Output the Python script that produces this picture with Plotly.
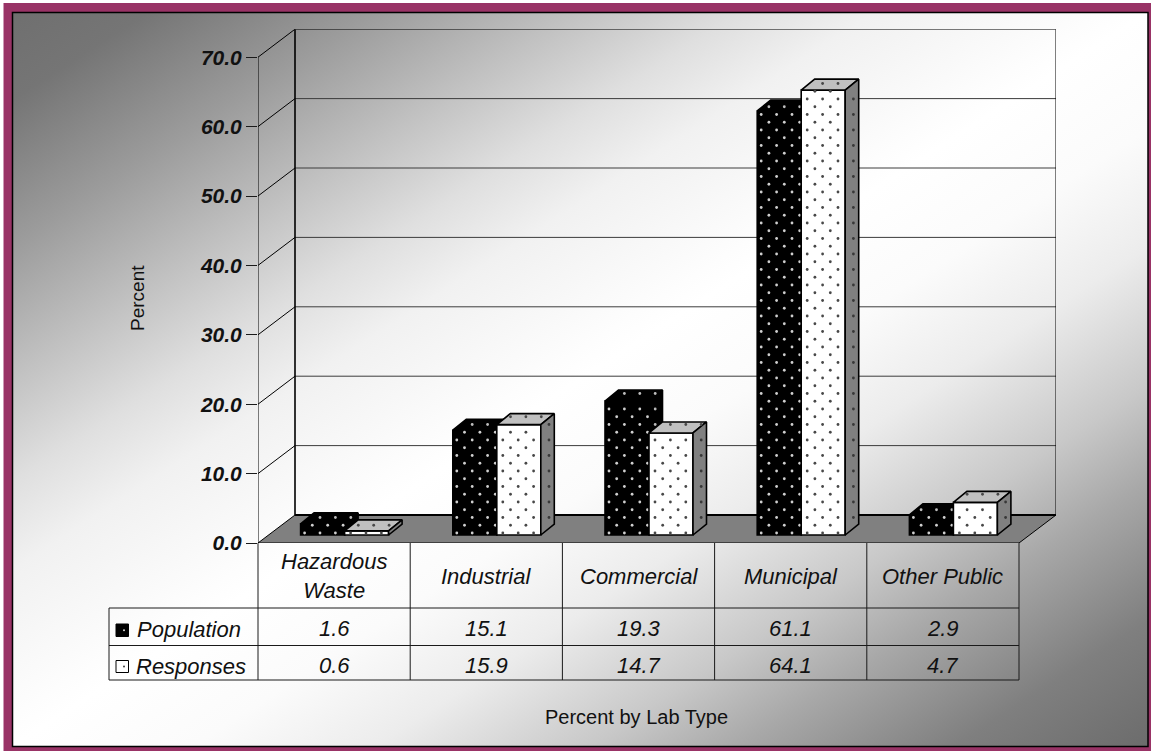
import base64
import plotly.graph_objects as go

# ---- chart data ----
categories = ["Hazardous<br>Waste", "Industrial", "Commercial", "Municipal", "Other Public"]
population = [1.6, 15.1, 19.3, 61.1, 2.9]
responses = [0.6, 15.9, 14.7, 64.1, 4.7]
value_ticks = [0, 10, 20, 30, 40, 50, 60, 70]

# ---- page geometry (pixels) ----
W, H = 1151, 751
AX_LEFT, AX_BOTTOM = 258, 543     # origin of the front plane
SX, SY = 152.2, 6.94              # pixels per category, pixels per percent
WALL_DX, WALL_DY = 37, 28         # oblique depth of the chart box
BAR_PAD_DX, BAR_PAD_DY = 10.5, 8  # bars stand slightly behind the front edge
BAR_W = 44                        # width of one bar
BAR_DX, BAR_DY = 13.5, 11         # oblique depth of one bar
FONT = "Liberation Sans, Arial, sans-serif"
INK = "#111111"


def px(x):
    return x / W


def py(y):
    return 1 - y / H


def dx(pixels):
    return pixels / SX


def dy(pixels):
    return pixels / SY


n = len(categories)
DX, DY = dx(WALL_DX), dy(WALL_DY)
x_top = 5 + dx(WALL_DX)
y_top = 70 + DY

fig = go.Figure()


def poly_trace(points, fill=None, line="#000000", width=1.0, zorder=0):
    xs = [p[0] if p else None for p in points]
    ys = [p[1] if p else None for p in points]
    fig.add_trace(go.Scatter(
        x=xs, y=ys, mode="lines", hoverinfo="skip", showlegend=False,
        line=dict(color=line, width=width), cliponaxis=False, zorder=zorder,
        fill="toself" if fill else None, fillcolor=fill,
    ))


# Floor of the chart box
poly_trace([(0, 0), (n, 0), (n + DX, DY), (DX, DY), (0, 0)], fill="#808080", width=1.0)
poly_trace([(DX, DY), (n + DX, DY)], width=2.0)

# Grid lines running along the left side and the back wall
for v in value_ticks[1:]:
    poly_trace([(0, v), (DX, v + DY)], width=1.0)
    poly_trace([(DX, v + DY), (n + DX, v + DY)],
               line="#000000" if v == 70 else "#3c3c3c", width=1.0)

# Box edges
poly_trace([(0, 0), (0, 70)], width=1.0)
poly_trace([(DX, DY), (DX, y_top)], width=1.6)
poly_trace([(n + DX, DY), (n + DX, y_top)], width=1.0)


def lattice(left, base_px, top_px, phase):
    """Staggered dot positions, in pixel offsets from the bar's lower left corner."""
    pts = []
    row = 0
    while base_px - 2 - row * 7.75 > top_px - BAR_DY:
        oy = 2 + row * 7.75
        ox = phase + (7.7 if row % 2 else 0)
        while ox < BAR_W + BAR_DX:
            pts.append((ox, oy))
            ox += 15.4
        row += 1
    return pts


def bar_3d(values, offset, front, top_col, side_col, dot_front, dot_top, dot_side, phase, zorder, name):
    tops, sides = [], []
    dots = {dot_front: ([], []), dot_top: ([], []), dot_side: ([], [])}
    base = dy(BAR_PAD_DY)
    xc = []
    for i, v in enumerate(values):
        left = i + 0.5 + dx(BAR_PAD_DX) + offset * dx(BAR_W)
        xc.append(left + dx(BAR_W) / 2)
        right = left + dx(BAR_W)
        top = base + v
        ddx, ddy = dx(BAR_DX), dy(BAR_DY)
        tops += [(left, top), (right, top), (right + ddx, top + ddy), (left + ddx, top + ddy), (left, top), None]
        sides += [(right, base), (right + ddx, base + ddy), (right + ddx, top + ddy), (right, top), (right, base), None]

        # sort the dots onto the face each one lands on
        h_px = v * SY
        for ox, oy in lattice(left, 100, 100 - h_px, phase):
            if 1 < ox < BAR_W - 1 and 1 < oy < h_px - 1:
                col = dot_front
            elif ox >= BAR_W + 1 and ox < BAR_W + BAR_DX - 1 and (ox - BAR_W) * BAR_DY / BAR_DX + 1 < oy < h_px + (ox - BAR_W) * BAR_DY / BAR_DX - 1:
                col = dot_side
            elif oy > h_px + 1 and oy < h_px + BAR_DY - 1 and ox - (oy - h_px) * BAR_DX / BAR_DY > 1 and ox - (oy - h_px) * BAR_DX / BAR_DY < BAR_W - 1:
                col = dot_top
            else:
                continue
            dots[col][0].append(left + dx(ox))
            dots[col][1].append(base + dy(oy))

    fig.add_trace(go.Bar(
        x=xc, y=values, base=base, width=dx(BAR_W), name=name, showlegend=False,
        marker=dict(color=front, line=dict(color="#000000", width=1.6)), zorder=zorder,
    ))
    poly_trace(tops, fill=top_col, width=1.6, zorder=zorder)
    poly_trace(sides, fill=side_col, width=1.6, zorder=zorder)
    for col, (xs, ys) in dots.items():
        fig.add_trace(go.Scatter(
            x=xs, y=ys, mode="markers", hoverinfo="skip", showlegend=False, zorder=zorder,
            marker=dict(color=col, size=2.8, line=dict(width=0)),
        ))


bar_3d(population, -1, "#000000", "#000000", "#000000", "#cfcfcf", "#bdbdbd", "#b8b8b8", 4, 1, "Population")
bar_3d(responses, 0, "#ffffff", "#c0c0c0", "#808080", "#484848", "#484848", "#383838", 6, 2, "Responses")

# ---- backdrop: diagonal grey-white-grey wash ----
wash_stops = [
    (0, "#6f6f6f"), (0.06, "#757575"), (0.16, "#9c9c9c"), (0.25, "#c2c2c2"), (0.32, "#dfdfdf"),
    (0.38, "#f1f1f1"), (0.48, "#fdfdfd"), (0.5, "#ffffff"), (0.58, "#fbfbfb"), (0.66, "#ececec"),
    (0.755, "#c8c8c8"), (0.82, "#a8a8a8"), (0.915, "#7f7f7f"), (1, "#6c6c6c"),
]
stop_tags = "".join(f'<stop offset="{o}" stop-color="{c}"/>' for o, c in wash_stops)
svg = (
    '<svg xmlns="http://www.w3.org/2000/svg" width="1136" height="734" preserveAspectRatio="none">'
    f'<defs><linearGradient id="g" x1="0" y1="0" x2="1" y2="1">{stop_tags}</linearGradient></defs>'
    '<rect width="1136" height="734" fill="url(#g)"/></svg>'
)
backdrop = "data:image/svg+xml;base64," + base64.b64encode(svg.encode()).decode()

# ---- shapes: page frame and table rules ----
shapes = [
    dict(type="rect", xref="paper", yref="paper", x0=0, x1=1, y0=py(3), y1=1,
         fillcolor="#ffffff", line=dict(width=0), layer="below"),
    dict(type="rect", xref="paper", yref="paper", x0=0, x1=px(3.5), y0=0, y1=1,
         fillcolor="#ffffff", line=dict(width=0), layer="below"),
    dict(type="rect", xref="paper", yref="paper", x0=px(12.5), x1=px(1148), y0=py(746.5), y1=py(12.5),
         line=dict(color="#000000", width=1.5), layer="below"),
]


def rule(x0, y0, x1, y1, color="#1a1a1a", width=1):
    shapes.append(dict(type="line", xref="paper", yref="paper", x0=px(x0), x1=px(x1),
                       y0=py(y0), y1=py(y1), line=dict(color=color, width=width), layer="above"))


ROW_TOP, ROW_A, ROW_B, ROW_C = AX_BOTTOM, 608, 645.5, 680
LEG_LEFT = 109
for i in range(n + 1):
    xv = AX_LEFT + i * SX
    rule(xv, ROW_TOP, xv, ROW_C)
rule(LEG_LEFT, ROW_A, AX_LEFT + n * SX, ROW_A)
rule(LEG_LEFT, ROW_B, AX_LEFT + n * SX, ROW_B)
rule(LEG_LEFT, ROW_C, AX_LEFT + n * SX, ROW_C)
rule(LEG_LEFT, ROW_A, LEG_LEFT, ROW_C)


def swatch(y0, y1, fill, dot):
    shapes.append(dict(type="rect", xref="paper", yref="paper", x0=px(116), x1=px(128.5),
                       y0=py(y1), y1=py(y0), fillcolor=fill,
                       line=dict(color="#000000", width=1), layer="above"))
    shapes.append(dict(type="circle", xref="paper", yref="paper", x0=px(123), x1=px(125),
                       y0=py((y0 + y1) / 2 + 1), y1=py((y0 + y1) / 2 - 1), fillcolor=dot,
                       line=dict(width=0), layer="above"))


swatch(624, 636.5, "#000000", "#d8d8d8")
swatch(660.5, 672.5, "#ffffff", "#3a3a3a")

# ---- table text ----
annotations = []


def label(text, x, y, size=22, anchor="center", angle=0, italic=True):
    annotations.append(dict(
        text=f"<i>{text}</i>" if italic else text, xref="paper", yref="paper",
        x=px(x), y=py(y), xanchor=anchor, yanchor="middle", showarrow=False, textangle=angle,
        font=dict(family=FONT, size=size, color=INK),
    ))


for i, cat in enumerate(categories):
    xc = AX_LEFT + (i + 0.5) * SX
    label(cat, xc, 576)
    label(f"{population[i]:.1f}", xc, 628.5)
    label(f"{responses[i]:.1f}", xc, 665)
label("Population", 135, 629, anchor="left")
label("Responses", 134, 666, anchor="left")
label("Percent", 138, 298, size=19, angle=-90, italic=False)
label("Percent by Lab Type", 637, 717, size=20, italic=False)

fig.update_layout(
    width=W, height=H, margin=dict(l=0, r=0, t=0, b=0, autoexpand=False), autosize=False,
    paper_bgcolor="#993366", plot_bgcolor="rgba(0,0,0,0)", barmode="overlay", showlegend=False,
    shapes=shapes, annotations=annotations,
    images=[dict(source=backdrop, xref="paper", yref="paper", x=px(12), y=py(12),
                 sizex=px(1136), sizey=734 / H, xanchor="left", yanchor="top",
                 sizing="stretch", layer="below")],
    xaxis=dict(domain=[px(AX_LEFT), px(AX_LEFT + n * SX + WALL_DX)], range=[0, n + DX],
               showgrid=False, zeroline=False, showticklabels=False, ticks="", showline=False),
    yaxis=dict(domain=[py(AX_BOTTOM), py(AX_BOTTOM - y_top * SY)], range=[0, y_top],
               showgrid=False, zeroline=False, showline=False, ticks="outside", ticklen=11,
               tickcolor="#1a1a1a", tickwidth=1, tickvals=value_ticks,
               ticktext=[f"{v:.1f}" for v in value_ticks],
               tickfont=dict(family=FONT, size=21, color=INK, weight="bold", style="italic")),
)

fig.write_html("out.html")
